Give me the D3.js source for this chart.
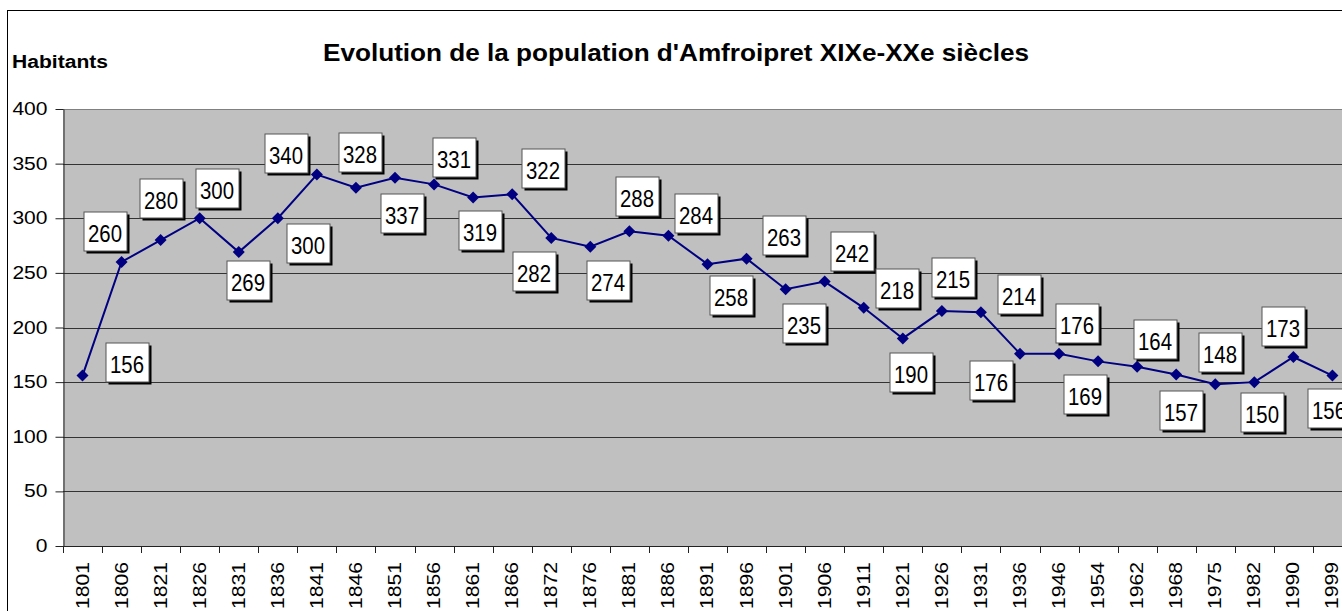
<!DOCTYPE html>
<html>
<head>
<meta charset="utf-8">
<script src="https://cdn.jsdelivr.net/npm/d3@7"></script>
<style>
  html, body { margin: 0; padding: 0; background: #fff; }
  svg { display: block; font-family: "Liberation Sans", Arial, sans-serif; }
</style>
</head>
<body>
<svg id="chart" width="1342" height="611"></svg>
<script>
// ---- data ----
const years = ["1801","1806","1821","1826","1831","1836","1841","1846","1851","1856","1861","1866","1872","1876","1881","1886","1891","1896","1901","1906","1911","1921","1926","1931","1936","1946","1954","1962","1968","1975","1982","1990","1999"];
const population = [156,260,280,300,269,300,340,328,337,331,319,322,282,274,288,284,258,263,235,242,218,190,215,214,176,176,169,164,157,148,150,173,156];
const yTicks = [0,50,100,150,200,250,300,350,400];
const title = "Evolution de la population d'Amfroipret XIXe-XXe siècles";
const yTitle = "Habitants";

// ---- layout (label box offsets from each point, px) ----
const labelOffsets = [
  [44,-14],[-17,-31],[0,-42],[17,-30],[9,28],[30,25],[-31,-22],[4,-36],[7,35],[20,-27],
  [7,33],[31,-26],[-17,33],[18,33],[8,-35],[28,-23],[24,31],[37,-24],[18,34],[27,-31],
  [33,-20],[8,34],[11,-34],[38,-18],[-29,26],[18,-31],[-13,33],[18,-28],[5,36],[5,-32],
  [8,30],[-10,-31],[-3,32]
];

const svg = d3.select("#chart");
const plot = { left: 63, top: 109, bottom: 546 };
const bw = 39.06;
plot.right = plot.left + bw * years.length;

// outer chart border
svg.append("rect").attr("x", 7.5).attr("y", 10.5).attr("width", 1400).attr("height", 700)
  .attr("fill", "#fff").attr("stroke", "#000").attr("stroke-width", 1);

const x = d3.scaleBand().domain(years).range([plot.left, plot.right]);
const y = d3.scaleLinear().domain([0, 400]).range([plot.bottom, plot.top]);

// plot area
svg.append("rect").attr("x", plot.left).attr("y", plot.top)
  .attr("width", plot.right - plot.left).attr("height", plot.bottom - plot.top)
  .attr("fill", "#c0c0c0");

// gridlines
svg.append("g").selectAll("line").data(yTicks.filter(d => d > 0)).join("line")
  .attr("x1", plot.left).attr("x2", plot.right)
  .attr("y1", d => Math.round(y(d)) + 0.5).attr("y2", d => Math.round(y(d)) + 0.5)
  .attr("stroke", d => d === 400 ? "#808080" : "#333").attr("stroke-width", 1);

// y axis
const yAxis = svg.append("g").attr("transform", `translate(${plot.left + 0.5},0)`)
  .call(d3.axisLeft(y).tickValues(yTicks).tickSize(8).tickPadding(8).tickSizeOuter(0));
yAxis.select(".domain").attr("stroke", "#222");
yAxis.selectAll(".tick line").attr("stroke", "#222");
yAxis.selectAll(".tick text").attr("font-size", "17.5px").attr("fill", "#000")
  .attr("font-family", "Liberation Sans, Arial, sans-serif")
  .attr("textLength", d => String(d).length * 11.7).attr("lengthAdjust", "spacingAndGlyphs");

// x axis baseline and ticks at category boundaries
svg.append("line").attr("x1", plot.left).attr("x2", plot.right)
  .attr("y1", plot.bottom + 0.5).attr("y2", plot.bottom + 0.5).attr("stroke", "#222");
svg.append("g").selectAll("line").data(d3.range(years.length + 1)).join("line")
  .attr("x1", i => Math.round(plot.left + i * bw) + 0.5)
  .attr("x2", i => Math.round(plot.left + i * bw) + 0.5)
  .attr("y1", plot.bottom).attr("y2", plot.bottom + 7).attr("stroke", "#222");

// x tick labels (rotated)
svg.append("g").selectAll("text").data(years).join("text")
  .attr("transform", d => `translate(${x(d) + x.bandwidth() / 2 + 6},562) rotate(-90)`)
  .attr("text-anchor", "end").attr("font-size", "18px").attr("fill", "#000")
  .attr("textLength", 47).attr("lengthAdjust", "spacingAndGlyphs")
  .text(d => d);

// line
const pts = years.map((yr, i) => ({ yr, v: population[i], i }));
const line = d3.line().x(d => x(d.yr) + x.bandwidth() / 2).y(d => y(d.v));
svg.append("path").datum(pts).attr("d", line)
  .attr("fill", "none").attr("stroke", "#000080").attr("stroke-width", 2);

// markers
svg.append("g").selectAll("path").data(pts).join("path")
  .attr("transform", d => `translate(${x(d.yr) + x.bandwidth() / 2},${y(d.v)})`)
  .attr("d", "M0,-6L6,0L0,6L-6,0Z").attr("fill", "#000080");

// data labels
const bwBox = 43, bhBox = 39;
const lab = svg.append("g").selectAll("g").data(pts).join("g")
  .attr("transform", d => {
    const cx = x(d.yr) + x.bandwidth() / 2 + labelOffsets[d.i][0];
    const cy = y(d.v) + labelOffsets[d.i][1];
    return `translate(${Math.round(cx)},${Math.round(cy)})`;
  });
lab.append("rect").attr("x", -bwBox / 2 + 3).attr("y", -bhBox / 2 + 3)
  .attr("width", bwBox).attr("height", bhBox).attr("fill", "#000");
lab.append("rect").attr("x", -bwBox / 2 + 0.5).attr("y", -bhBox / 2 + 0.5)
  .attr("width", bwBox).attr("height", bhBox).attr("fill", "#fff")
  .attr("stroke", "#555").attr("stroke-width", 1);
lab.append("text").attr("text-anchor", "middle").attr("y", 11)
  .attr("font-size", "23px").attr("fill", "#000")
  .attr("textLength", 34).attr("lengthAdjust", "spacingAndGlyphs")
  .text(d => d.v);

// titles
svg.append("text").attr("x", 323).attr("y", 61)
  .attr("font-size", "24px").attr("font-weight", "bold")
  .attr("textLength", 706).attr("lengthAdjust", "spacingAndGlyphs").text(title);
svg.append("text").attr("x", 12).attr("y", 68)
  .attr("font-size", "18px").attr("font-weight", "bold")
  .attr("textLength", 96).attr("lengthAdjust", "spacingAndGlyphs").text(yTitle);
</script>
</body>
</html>
